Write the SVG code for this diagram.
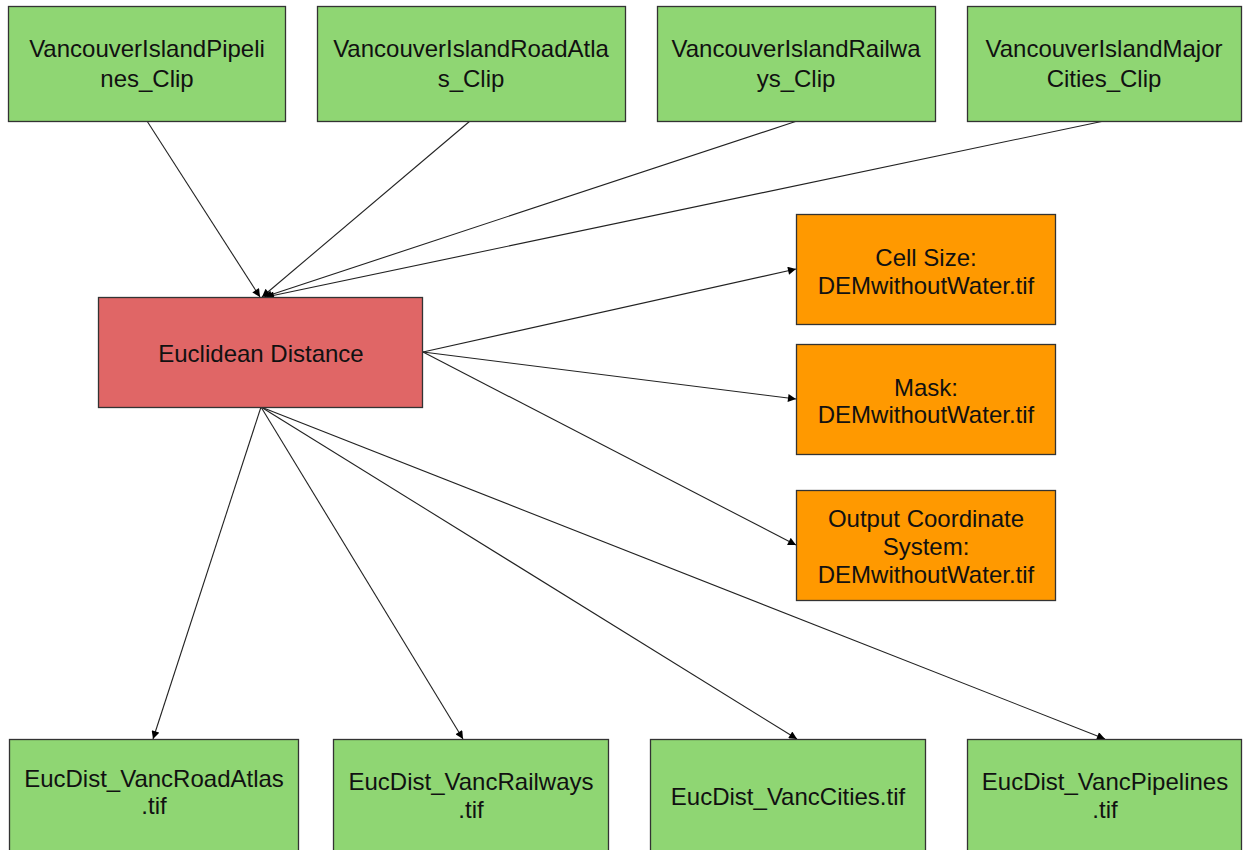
<svg xmlns="http://www.w3.org/2000/svg" width="1248" height="850" viewBox="0 0 1248 850">
<defs>
<marker id="ah" viewBox="0 0 10 10" refX="10" refY="5" markerWidth="10" markerHeight="8" markerUnits="userSpaceOnUse" orient="auto">
<path d="M0,0 L10,5 L0,10 z" fill="#000"/>
</marker>
<style>
.box{stroke:#333;stroke-width:1.3}
.g{fill:#8fd673}
.r{fill:#e06666}
.o{fill:#ff9900}
text{font-family:"Liberation Sans",Arial,sans-serif;font-size:24px;fill:#111;text-anchor:middle}
.c line{stroke:#222;stroke-width:1.1;marker-end:url(#ah)}
</style>
</defs>
<rect width="1248" height="850" fill="#fff"/>
<g class="c" id="connectors">
<line x1="147" y1="121" x2="260" y2="297"/>
<line x1="470" y1="121" x2="262" y2="297"/>
<line x1="797" y1="121" x2="264" y2="297"/>
<line x1="1104" y1="121" x2="266" y2="297"/>
<line x1="423" y1="352" x2="796" y2="269"/>
<line x1="423" y1="352" x2="796" y2="399"/>
<line x1="423" y1="352" x2="796" y2="545"/>
<line x1="261" y1="407" x2="153" y2="739"/>
<line x1="261" y1="407" x2="463" y2="739"/>
<line x1="261" y1="407" x2="797" y2="739"/>
<line x1="261" y1="407" x2="1105" y2="739"/>
</g>
<g id="n1"><rect class="box g" x="8.5" y="6.5" width="277" height="115"/><text x="147" y="57">VancouverIslandPipeli</text><text x="147" y="87">nes_Clip</text></g>
<g id="n2"><rect class="box g" x="317.5" y="6.5" width="308" height="115"/><text x="471" y="57">VancouverIslandRoadAtla</text><text x="471" y="87">s_Clip</text></g>
<g id="n3"><rect class="box g" x="657.5" y="6.5" width="278" height="115"/><text x="796" y="57">VancouverIslandRailwa</text><text x="796" y="87">ys_Clip</text></g>
<g id="n4"><rect class="box g" x="967.5" y="6.5" width="274" height="115"/><text x="1104" y="57">VancouverIslandMajor</text><text x="1104" y="87">Cities_Clip</text></g>
<g id="ed"><rect class="box r" x="98.5" y="297.5" width="324" height="110"/><text x="261" y="362">Euclidean Distance</text></g>
<g id="cs"><rect class="box o" x="796.5" y="214.5" width="259" height="110"/><text x="926" y="266">Cell Size:</text><text x="926" y="294">DEMwithoutWater.tif</text></g>
<g id="mk"><rect class="box o" x="796.5" y="344.5" width="259" height="110"/><text x="926" y="396">Mask:</text><text x="926" y="423">DEMwithoutWater.tif</text></g>
<g id="oc"><rect class="box o" x="796.5" y="490.5" width="259" height="110"/><text x="926" y="527">Output Coordinate</text><text x="926" y="555">System:</text><text x="926" y="583">DEMwithoutWater.tif</text></g>
<g id="b1"><rect class="box g" x="9.5" y="739.5" width="289" height="115"/><text x="154" y="787">EucDist_VancRoadAtlas</text><text x="154" y="814">.tif</text></g>
<g id="b2"><rect class="box g" x="333.5" y="739.5" width="275" height="115"/><text x="471" y="790">EucDist_VancRailways</text><text x="471" y="818">.tif</text></g>
<g id="b3"><rect class="box g" x="650.5" y="739.5" width="275" height="115"/><text x="788" y="805">EucDist_VancCities.tif</text></g>
<g id="b4"><rect class="box g" x="967.5" y="739.5" width="274" height="115"/><text x="1105" y="790">EucDist_VancPipelines</text><text x="1105" y="818">.tif</text></g>
</svg>
